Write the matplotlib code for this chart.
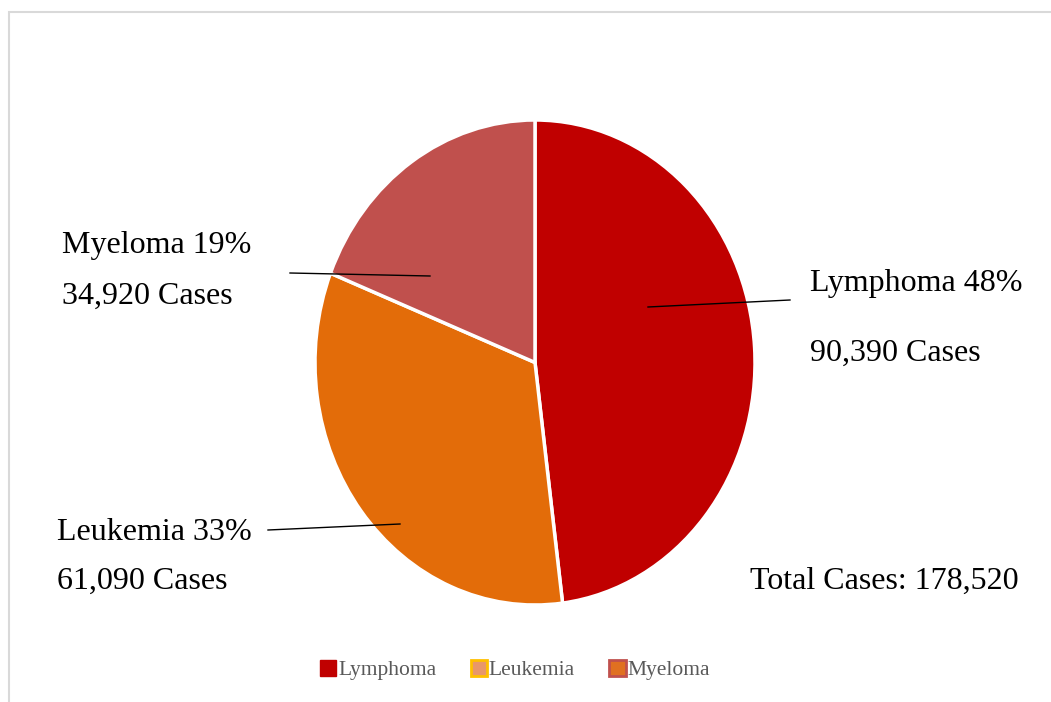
import matplotlib
matplotlib.use("Agg")
from matplotlib import pyplot as plt
from matplotlib.patches import Patch, Rectangle
from matplotlib.lines import Line2D

categories = ['Lymphoma', 'Leukemia', 'Myeloma']
percents = [48, 33, 19]
cases = [90390, 61090, 34920]
total_cases = 178520
colors = ['#C00000', '#E36C09', '#C0504D']

W, H = 1051, 702
fig = plt.figure(figsize=(W / 100, H / 100), dpi=100)

def fx(px):
    return px / W

def fy(py):
    return 1 - py / H

# light chart border (only top and left visible)
fig.patches.append(Rectangle((fx(9), -0.2), 1.2, fy(12) + 0.2,
                             transform=fig.transFigure, fill=False,
                             edgecolor='#D9D9D9', linewidth=1.5))

# pie (slightly taller than wide, as in the original)
ax = fig.add_axes([fx(315), fy(605), fx(755) - fx(315), fy(120) - fy(605)])
ax.pie(percents, colors=colors, startangle=90, counterclock=False,
       wedgeprops=dict(edgecolor='white', linewidth=2.5))
ax.set_aspect('auto')
ax.set_xlim(-1, 1)
ax.set_ylim(-1, 1)

serif = 'Liberation Serif'
fs = 23

def label(x, y, s, ha='left'):
    fig.text(fx(x), fy(y + 3), s, fontsize=fs, family=serif, ha=ha, va='center', color='black')

label(810, 280, '%s %d%%' % (categories[0], percents[0]))
label(810, 350, '{:,} Cases'.format(cases[0]))
label(57, 530, '%s %d%%' % (categories[1], percents[1]))
label(57, 578, '{:,} Cases'.format(cases[1]))
label(62, 243, '%s %d%%' % (categories[2], percents[2]))
label(62, 293, '{:,} Cases'.format(cases[2]))
label(750, 578, 'Total Cases: {:,}'.format(total_cases))

# leader lines
for (x0, y0, x1, y1) in [(648, 307, 790, 300), (290, 273, 430, 276), (268, 530, 400, 524)]:
    fig.add_artist(Line2D([fx(x0), fx(x1)], [fy(y0), fy(y1)], transform=fig.transFigure,
                          color='black', linewidth=1))

handles = [Patch(facecolor='#C00000', edgecolor='#C00000'),
           Patch(facecolor='#E8976A', edgecolor='#FFC000', linewidth=2),
           Patch(facecolor='#E07020', edgecolor='#C0504D', linewidth=2)]
fig.legend(handles, categories, loc='center', bbox_to_anchor=(fx(515), fy(670)),
           ncol=3, frameon=False, prop={'family': serif, 'size': 15.5},
           labelcolor='#595959', handlelength=0.75, handleheight=0.75,
           handletextpad=0.1, columnspacing=1.6)

fig.savefig('out.png', dpi=100)
